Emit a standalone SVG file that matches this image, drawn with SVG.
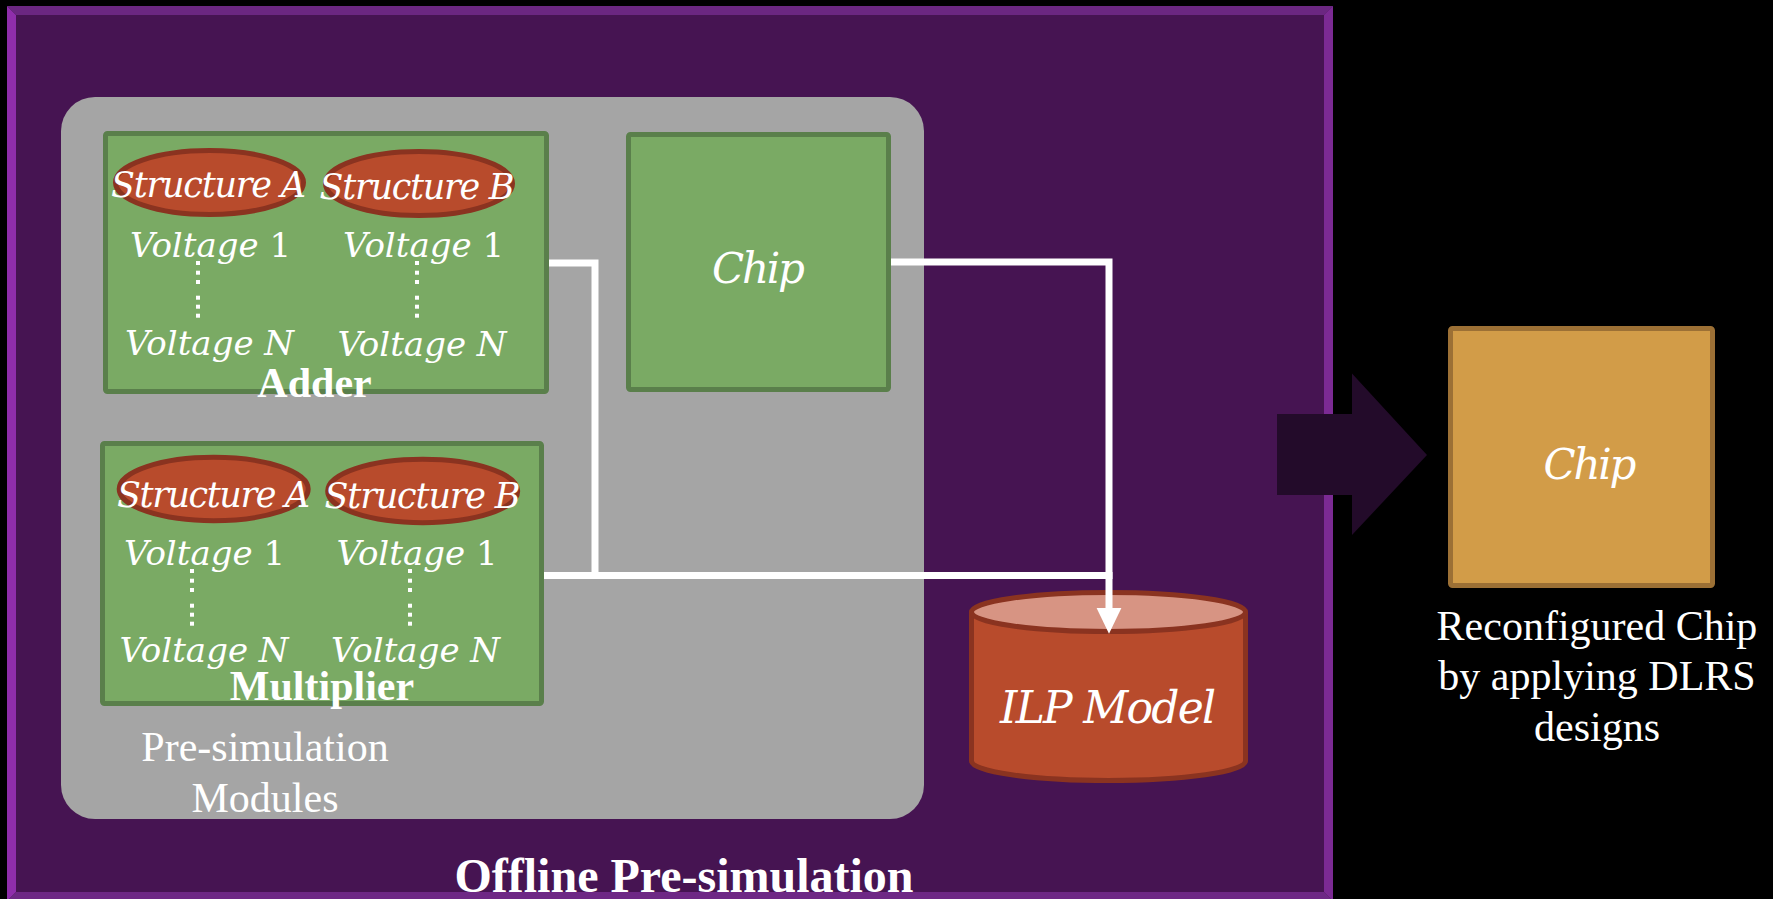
<svg xmlns="http://www.w3.org/2000/svg" width="1773" height="899" viewBox="0 0 1773 899">
<defs>
<style>
.math{font-family:"DejaVu Serif",serif;font-style:italic;fill:#ffffff;text-anchor:middle}
.up{font-style:normal}
.green{fill:#7AAA64;stroke:#5A7F4B;stroke-width:5}
.ell{fill:#B84B2C;stroke:#8A3320;stroke-width:5}
.bold{font-family:"Liberation Serif",serif;font-weight:bold;fill:#ffffff;text-anchor:middle}
.reg{font-family:"Liberation Serif",serif;fill:#ffffff;text-anchor:middle}
.dot{fill:#ffffff}
.conn{fill:none;stroke:#ffffff;stroke-width:7;stroke-linejoin:miter}
</style>
<marker id="ah" markerUnits="userSpaceOnUse" markerWidth="26" markerHeight="26" viewBox="0 0 25 24" refX="4" refY="12" orient="auto">
<path d="M0,0 L25,12 L0,24 Z" fill="#ffffff"/>
</marker>
<g id="dots">
<rect x="-2" y="-2" width="4" height="4" class="dot"/>
<rect x="-2" y="7.7" width="4" height="4" class="dot"/>
<rect x="-2" y="17" width="4" height="4" class="dot"/>
<rect x="-2" y="32.7" width="4" height="4" class="dot"/>
<rect x="-2" y="41.7" width="4" height="4" class="dot"/>
<rect x="-2" y="50.7" width="4" height="4" class="dot"/>
</g>
</defs>
<rect x="0" y="0" width="1773" height="899" fill="#000000"/>

<g id="frame">
<rect x="7" y="6" width="1326" height="900" fill="#461452"/>
<polygon points="7,6 16,15 16,892 7,901" fill="#8F2EAB"/>
<polygon points="7,6 1333,6 1324,15 16,15" fill="#6B2781"/>
<polygon points="1333,6 1333,901 1324,892 1324,15" fill="#7B2A93"/>
<polygon points="7,901 16,892 1324,892 1333,901" fill="#6E2885"/>
</g>

<g id="presim-panel">
<rect x="61" y="97" width="863" height="722" rx="34" fill="#A5A5A5"/>
<text class="reg" font-size="42" x="265" y="761">Pre-simulation</text>
<text class="reg" font-size="42" x="265" y="812">Modules</text>
</g>

<g id="adder">
<rect class="green" x="105.5" y="133.5" width="441" height="258" rx="2"/>
<ellipse class="ell" cx="209.5" cy="182.5" rx="94" ry="32"/>
<ellipse class="ell" cx="419" cy="183.5" rx="93.5" ry="32"/>
<text class="math" font-size="35" x="208.5" y="197" textLength="195">Structure A</text>
<text class="math" font-size="35" x="417" y="199" textLength="195">Structure B</text>
<text class="math" font-size="34" x="210.5" y="257">Voltage <tspan class="up">1</tspan></text>
<text class="math" font-size="34" x="423.5" y="257">Voltage <tspan class="up">1</tspan></text>
<use href="#dots" x="198" y="263"/>
<use href="#dots" x="417" y="263"/>
<text class="math" font-size="34" x="209.5" y="355">Voltage N</text>
<text class="math" font-size="34" x="422" y="356">Voltage N</text>
<text class="bold" font-size="42" x="314.5" y="397">Adder</text>
</g>

<g id="multiplier">
<rect class="green" x="102.5" y="443.5" width="439" height="260" rx="2"/>
<ellipse class="ell" cx="213.7" cy="489" rx="94.5" ry="31.7"/>
<ellipse class="ell" cx="422.7" cy="491" rx="95" ry="31.7"/>
<text class="math" font-size="35" x="213.5" y="507" textLength="193">Structure A</text>
<text class="math" font-size="35" x="422.5" y="508" textLength="196">Structure B</text>
<text class="math" font-size="34" x="204.5" y="565">Voltage <tspan class="up">1</tspan></text>
<text class="math" font-size="34" x="417" y="565">Voltage <tspan class="up">1</tspan></text>
<use href="#dots" x="192" y="571"/>
<use href="#dots" x="410" y="571"/>
<text class="math" font-size="34" x="204" y="662">Voltage N</text>
<text class="math" font-size="34" x="415.5" y="662">Voltage N</text>
<text class="bold" font-size="42" x="322" y="700">Multiplier</text>
</g>

<g id="chip">
<rect class="green" x="628.5" y="134.5" width="260" height="255" rx="2"/>
<text class="math" font-size="42" x="758.5" y="283" textLength="93">Chip</text>
</g>

<g id="ilp-model">
<path d="M971.5,612 L971.5,761 A137,19.5 0 0 0 1245.5,761 L1245.5,612" fill="#B84B2C" stroke="#8A3320" stroke-width="5"/>
<ellipse cx="1108.5" cy="612" rx="137" ry="19.5" fill="#D79483" stroke="#8A3320" stroke-width="5"/>
<text class="math" font-size="44" x="1108" y="723" textLength="216">ILP Model</text>
</g>

<g id="connectors">
<path class="conn" d="M549,263 L595,263 L595,575.5"/>
<path class="conn" d="M544,575.5 L1112.5,575.5"/>
<path class="conn" d="M891,262 L1109,262 L1109,612" marker-end="url(#ah)"/>
<polygon points="1277,414 1352,414 1352,373.5 1427,455 1352,535 1352,495 1277,495" fill="#230B2A"/>
</g>

<g id="reconfigured-chip">
<rect x="1450.5" y="328.5" width="262" height="257" rx="2" fill="#D29C48" stroke="#9C7035" stroke-width="5"/>
<text class="math" font-size="42" x="1590" y="479" textLength="93">Chip</text>
<text class="reg" font-size="42" x="1597" y="640">Reconfigured Chip</text>
<text class="reg" font-size="42" x="1597" y="690">by applying DLRS</text>
<text class="reg" font-size="42" x="1597" y="741">designs</text>
</g>

<g id="title">
<text class="bold" font-size="48" x="684" y="892">Offline Pre-simulation</text>
</g>
</svg>
